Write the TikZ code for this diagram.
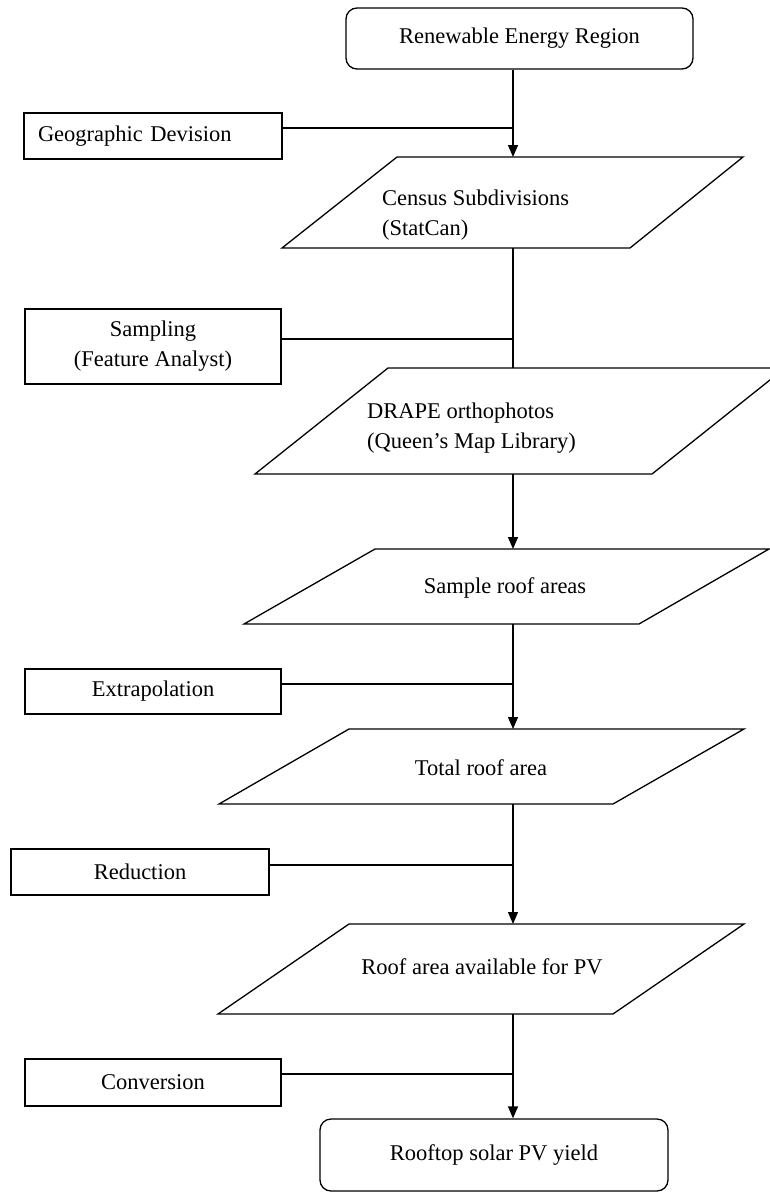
\documentclass[tikz,border=0pt]{standalone}
\usepackage{fontspec}
\setmainfont{Liberation Serif}
\usetikzlibrary{arrows.meta}

\tikzset{
    procbox/.style={draw, line width=1.3pt, minimum width=258pt, minimum height=46pt,
        inner sep=0pt, align=center},
    termbox/.style={draw, line width=1.3pt, rounded corners=11pt, inner sep=0pt},
    databox/.style={line width=1.3pt, line join=miter},
    label/.style={inner sep=0pt},
    flow/.style={line width=1.3pt, -{Triangle[length=12pt, width=10pt]}},
    link/.style={line width=1.3pt}
}

\begin{document}
\begin{tikzpicture}[x=1pt, y=-1pt, font=\fontsize{22.5}{30}\selectfont]
    \useasboundingbox (0, 0) rectangle (770, 1192);
    \coordinate (spine) at (513, 0);

    % terminal boxes
    \node[termbox, minimum width=347pt, minimum height=61pt] (region) at (519.5, 38.5)
        {Renewable Energy Region};
    \node[termbox, minimum width=348pt, minimum height=72pt] (yield) at (494, 1155)
        {Rooftop solar PV yield};

    % process boxes on the left
    \node[procbox, text width=230pt, align=left, inner xsep=14pt] (geo) at (153, 136)
        {Geographic Devision};
    \node[procbox, minimum width=256pt, minimum height=75pt] (sampling) at (153, 346.5)
        {Sampling\\(Feature Analyst)};
    \node[procbox, minimum width=256pt, minimum height=45pt] (extrap) at (153, 691.5)
        {Extrapolation};
    \node[procbox, minimum height=46pt] (reduction) at (140, 872)
        {Reduction};
    \node[procbox, minimum width=256pt, minimum height=47pt] (conversion) at (153, 1082.5)
        {Conversion};

    % data parallelograms
    \draw[databox] (397, 157) -- (743, 157) -- (630, 248) -- (282, 248) -- cycle;
    \node[label, anchor=west, align=left] (census) at (382, 215)
        {Census Subdivisions\\(StatCan)};
    \coordinate (census-in) at (513, 157);
    \coordinate (census-out) at (513, 248);

    \draw[databox] (388, 368) -- (785, 368) -- (652, 474) -- (255, 474) -- cycle;
    \node[label, anchor=west, align=left] (drape) at (367, 428)
        {DRAPE orthophotos\\(Queen’s Map Library)};
    \coordinate (drape-in) at (513, 368);
    \coordinate (drape-out) at (513, 474);

    \draw[databox] (375, 549) -- (769, 549) -- (639, 624) -- (244, 624) -- cycle;
    \node[label] (sample) at (505, 588) {Sample roof areas};
    \coordinate (sample-in) at (513, 549);
    \coordinate (sample-out) at (513, 624);

    \draw[databox] (349, 729) -- (744, 729) -- (613, 804) -- (219, 804) -- cycle;
    \node[label] (total) at (481, 768) {Total roof area};
    \coordinate (total-in) at (513, 729);
    \coordinate (total-out) at (513, 804);

    \draw[databox] (349, 924) -- (744, 924) -- (613, 1014) -- (218, 1014) -- cycle;
    \node[label] (avail) at (482, 967) {Roof area available for PV};
    \coordinate (avail-in) at (513, 924);
    \coordinate (avail-out) at (513, 1014);

    % joints on the spine
    \coordinate (geo-j) at (513, 128);
    \coordinate (sampling-j) at (513, 339);
    \coordinate (extrap-j) at (513, 684);
    \coordinate (reduction-j) at (513, 865);
    \coordinate (conversion-j) at (513, 1074);

    % main flow
    \draw[flow] (region.south -| spine) -- (census-in);
    \draw[link] (census-out) -- (drape-in);
    \draw[flow] (drape-out) -- (sample-in);
    \draw[flow] (sample-out) -- (total-in);
    \draw[flow] (total-out) -- (avail-in);
    \draw[flow] (avail-out) -- (yield.north -| spine);

    % side inputs
    \draw[link] (geo.east |- geo-j) -- (geo-j);
    \draw[link] (sampling.east |- sampling-j) -- (sampling-j);
    \draw[link] (extrap.east |- extrap-j) -- (extrap-j);
    \draw[link] (reduction.east |- reduction-j) -- (reduction-j);
    \draw[link] (conversion.east |- conversion-j) -- (conversion-j);
\end{tikzpicture}
\end{document}
